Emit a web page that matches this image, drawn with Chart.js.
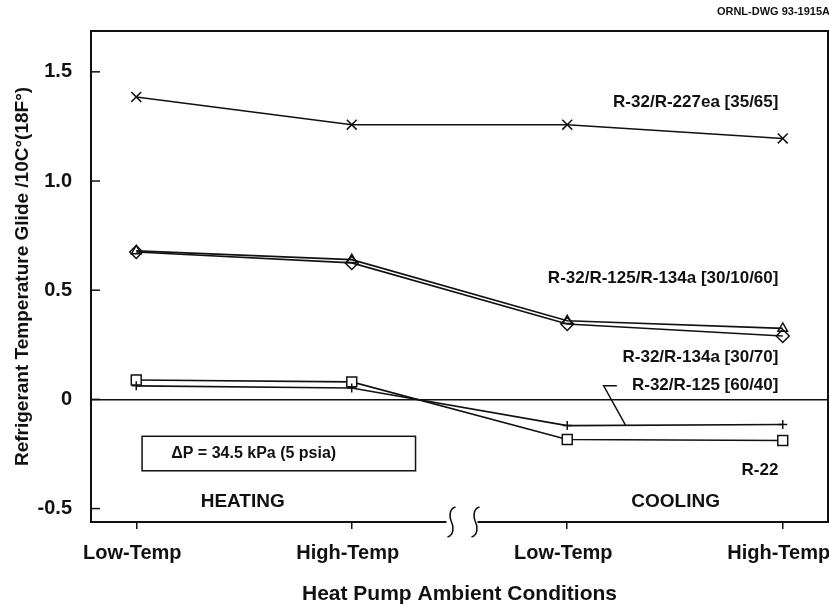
<!DOCTYPE html>
<html>
<head>
<meta charset="utf-8">
<script src="https://cdn.jsdelivr.net/npm/chart.js@4"></script>
<style>
  body { margin: 0; background: #fff; }
  canvas { display: block; }
</style>
</head>
<body>
<canvas id="glideChart" width="829" height="607"></canvas>
<script>
const FONT = "'Liberation Sans', Arial, Helvetica, sans-serif";
const INK = '#111';

// x positions (heating pair, axis break, cooling pair)
const categories = ['Low-Temp', 'High-Temp', 'Low-Temp', 'High-Temp'];
const xPos = [0, 1, 2, 3];
const yTicks = [-0.5, 0, 0.5, 1.0, 1.5];

// temperature glide per 10C (18F) pressure drop
const r32r227ea = [1.385, 1.258, 1.258, 1.195];
const r32r125r134a = [0.68, 0.64, 0.36, 0.325];
const r32r134a = [0.675, 0.625, 0.345, 0.29];
const r32r125 = [0.062, 0.052, -0.12, -0.115];
const r22 = [0.089, 0.08, -0.184, -0.188];

function series(label, values, style, radius, fill) {
  return {
    label: label,
    data: values.map((v, i) => ({ x: xPos[i], y: v })),
    borderColor: INK,
    borderWidth: 1.6,
    pointStyle: style,
    pointRadius: radius,
    pointBorderColor: INK,
    pointBorderWidth: 1.5,
    pointBackgroundColor: fill,
    tension: 0
  };
}

// text labels, frame, axis break and inward ticks
const annotations = {
  id: 'annotations',
  afterDraw(chart) {
    const ctx = chart.ctx;
    const xs = chart.scales.x, ys = chart.scales.y;
    const a = chart.chartArea;
    const px = v => xs.getPixelForValue(v);
    const py = v => ys.getPixelForValue(v);
    ctx.save();
    ctx.strokeStyle = INK;
    ctx.fillStyle = INK;
    ctx.lineWidth = 2;

    // frame, bottom side broken between heating and cooling
    const gap = px(1.5) + 4;
    ctx.beginPath();
    ctx.moveTo(gap - 17, a.bottom);
    ctx.lineTo(a.left, a.bottom);
    ctx.lineTo(a.left, a.top);
    ctx.lineTo(a.right, a.top);
    ctx.lineTo(a.right, a.bottom);
    ctx.lineTo(gap + 14, a.bottom);
    ctx.stroke();

    ctx.lineWidth = 1.6;
    [gap - 12, gap + 12].forEach(cx => {
      const cy = a.bottom;
      ctx.beginPath();
      ctx.moveTo(cx + 4, cy - 15);
      ctx.bezierCurveTo(cx - 3, cy - 13, cx - 2, cy - 4, cx, cy);
      ctx.bezierCurveTo(cx + 2, cy + 4, cx + 3, cy + 13, cx - 4, cy + 15);
      ctx.stroke();
    });

    // inward y ticks
    ctx.lineWidth = 1.5;
    yTicks.forEach(v => {
      ctx.beginPath();
      ctx.moveTo(a.left, py(v));
      ctx.lineTo(a.left + 9, py(v));
      ctx.stroke();
    });

    ctx.textBaseline = 'middle';
    ctx.font = 'bold 11px ' + FONT;
    ctx.textAlign = 'right';
    ctx.fillText('ORNL-DWG 93-1915A', 830, 12);

    ctx.font = 'bold 17px ' + FONT;
    ctx.fillText('R-32/R-227ea [35/65]', px(2.98), py(1.362));
    ctx.fillText('R-32/R-125/R-134a [30/10/60]', px(2.98), py(0.554));
    ctx.fillText('R-32/R-134a [30/70]', px(2.98), py(0.193));
    ctx.fillText('R-32/R-125 [60/40]', px(2.98), py(0.066));
    ctx.fillText('R-22', px(2.98), py(-0.327));

    ctx.textAlign = 'center';
    ctx.font = 'bold 19px ' + FONT;
    ctx.fillText('HEATING', px(0.494), py(-0.471));
    ctx.fillText('COOLING', px(2.503), py(-0.471));

    // leader for R-32/R-125
    ctx.lineWidth = 1.5;
    ctx.beginPath();
    ctx.moveTo(px(2.23), py(0.062));
    ctx.lineTo(px(2.169), py(0.062));
    ctx.lineTo(px(2.271), py(-0.119));
    ctx.stroke();

    // pressure drop box
    const bx = px(0.027), by = py(-0.169);
    ctx.strokeRect(bx, by, px(1.296) - bx, py(-0.327) - by);
    ctx.font = 'bold 16px ' + FONT;
    ctx.fillText('\u0394P = 34.5 kPa (5 psia)', px(0.545), py(-0.246));
    ctx.restore();
  }
};

new Chart(document.getElementById('glideChart'), {
  type: 'line',
  data: {
    datasets: [
      series('R-32/R-227ea [35/65]', r32r227ea, 'crossRot', 7, INK),
      series('R-32/R-125/R-134a [30/10/60]', r32r125r134a, 'triangle', 5.5, 'rgba(0,0,0,0)'),
      series('R-32/R-134a [30/70]', r32r134a, 'rectRot', 6.5, 'rgba(0,0,0,0)'),
      series('R-32/R-125 [60/40]', r32r125, 'cross', 4.5, INK),
      series('R-22', r22, 'rect', 7, '#fff')
    ]
  },
  options: {
    responsive: false,
    maintainAspectRatio: false,
    animation: false,
    layout: { autoPadding: false, padding: { left: 0, right: 1, top: 24, bottom: 0 } },
    plugins: {
      legend: { display: false },
      tooltip: { enabled: false }
    },
    scales: {
      x: {
        type: 'linear',
        min: -0.21,
        max: 3.21,
        afterBuildTicks: s => { s.ticks = xPos.map(v => ({ value: v })); },
        afterFit: s => { s.height = 85; s.paddingLeft = 0; s.paddingRight = 0; },
        border: { display: false },
        grid: { drawOnChartArea: false, drawTicks: true, tickLength: 7, color: INK, lineWidth: 1.5 },
        ticks: {
          padding: 12,
          labelOffset: -4,
          color: INK,
          maxRotation: 0,
          font: { family: FONT, size: 20, weight: 'bold' },
          callback: v => categories[v]
        },
        title: {
          display: true,
          text: 'Heat Pump Ambient Conditions',
          color: INK,
          padding: { top: 0, bottom: 0 },
          font: { family: FONT, size: 21, weight: 'bold', lineHeight: 1.2 }
        }
      },
      y: {
        min: -0.5615,
        max: 1.687,
        afterBuildTicks: s => { s.ticks = yTicks.map(v => ({ value: v })); },
        afterFit: s => { s.width = 91; },
        border: { display: false },
        grid: {
          drawTicks: false,
          color: c => (c.tick && c.tick.value === 0 ? INK : 'rgba(0,0,0,0)'),
          lineWidth: 1.5
        },
        ticks: {
          padding: 19,
          color: INK,
          font: { family: FONT, size: 20, weight: 'bold' },
          callback: v => (v === 0 ? '0' : v.toFixed(1))
        },
        title: {
          display: true,
          text: 'Refrigerant Temperature Glide /10C\u00b0(18F\u00b0)',
          color: INK,
          padding: { top: 11, bottom: 0 },
          font: { family: FONT, size: 19, weight: 'bold', lineHeight: 1.2 }
        }
      }
    }
  },
  plugins: [annotations]
});
</script>
</body>
</html>
